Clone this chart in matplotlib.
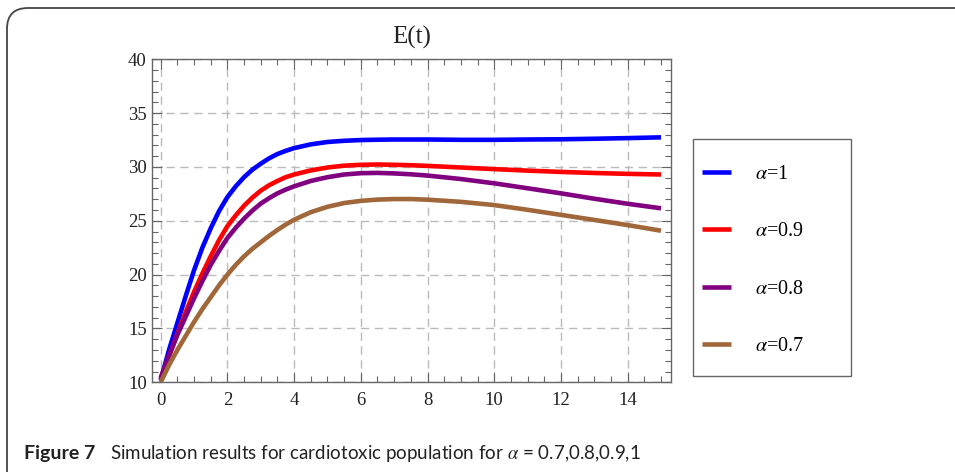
import matplotlib
matplotlib.use("Agg")
from matplotlib import pyplot as plt
from matplotlib import font_manager
from matplotlib.patches import FancyBboxPatch, Rectangle
from matplotlib.ticker import MultipleLocator

# values
t = [0, 0.25, 0.5, 0.75, 1.0, 1.25, 1.5, 1.75, 2.0, 2.25, 2.5, 2.75, 3.0, 3.25, 3.5, 3.75,
     4.0, 4.5, 5.0, 5.5, 6.0, 6.5, 7.0, 7.5, 8, 9, 10, 11, 12, 13, 14, 15]

e_a10 = [10.2, 13.0, 15.5, 18.0, 20.4, 22.5, 24.3, 25.9, 27.2, 28.2, 29.05, 29.75, 30.3, 30.8, 31.2, 31.5,
         31.75, 32.1, 32.32, 32.43, 32.5, 32.53, 32.55, 32.55, 32.55, 32.52, 32.52, 32.55, 32.57, 32.62, 32.68, 32.75]
e_a09 = [10.3, 12.4, 14.5, 16.5, 18.4, 20.1, 21.7, 23.2, 24.5, 25.5, 26.4, 27.15, 27.8, 28.3, 28.7, 29.05,
         29.3, 29.68, 29.95, 30.12, 30.2, 30.23, 30.2, 30.16, 30.1, 29.95, 29.8, 29.66, 29.54, 29.44, 29.36, 29.3]
e_a08 = [10.4, 12.5, 14.4, 16.1, 17.8, 19.4, 20.9, 22.2, 23.4, 24.35, 25.2, 25.95, 26.6, 27.1, 27.55, 27.9,
         28.2, 28.7, 29.05, 29.3, 29.42, 29.45, 29.4, 29.32, 29.2, 28.88, 28.48, 28.02, 27.55, 27.05, 26.58, 26.16]
e_a07 = [10.0, 11.6, 13.0, 14.3, 15.6, 16.8, 17.9, 19.0, 20.0, 20.9, 21.7, 22.4, 23.0, 23.6, 24.15, 24.65,
         25.1, 25.8, 26.3, 26.65, 26.85, 26.97, 27.02, 27.02, 26.96, 26.76, 26.46, 26.02, 25.55, 25.08, 24.6, 24.08]

labels = [r"$\alpha$=1", r"$\alpha$=0.9", r"$\alpha$=0.8", r"$\alpha$=0.7"]
colors = ["#0000ff", "#ff0000", "#800080", "#a0673a"]

plt.rcParams["font.family"] = ["Liberation Serif", "DejaVu Serif"]
plt.rcParams["mathtext.fontset"] = "stix"

names = {f.name for f in font_manager.fontManager.ttflist}
cap_font = "Liberation Sans Narrow" if "Liberation Sans Narrow" in names else "Lato"

fig = plt.figure(figsize=(9.55, 4.72), dpi=100)
ax = fig.add_axes([0.1588, 0.19, 0.7023 - 0.1588, 0.8744 - 0.19])

for y, lab, c in zip([e_a10, e_a09, e_a08, e_a07], labels, colors):
    ax.plot(t, y, color=c, lw=3.3, label=lab, solid_capstyle="butt", solid_joinstyle="round")

ax.set_xlim(-0.27, 15.29)
ax.set_ylim(10, 40)
ax.xaxis.set_major_locator(MultipleLocator(2))
ax.xaxis.set_minor_locator(MultipleLocator(0.5))
ax.yaxis.set_major_locator(MultipleLocator(5))
ax.yaxis.set_minor_locator(MultipleLocator(1))
ax.tick_params(which="both", direction="in", top=True, right=True,
               colors="#666666", labelcolor="#222222", labelsize=13.5)
ax.tick_params(axis="x", which="major", pad=7)
ax.tick_params(which="major", length=7, width=0.8)
ax.tick_params(which="minor", length=4, width=0.8)
for s in ax.spines.values():
    s.set_color("#666666")
    s.set_linewidth(1.0)
ax.grid(True, which="major", color="#bbbbbb", ls=(0, (6, 4)), lw=1.0)
ax.set_axisbelow(True)
ax.set_title("E(t)", fontsize=18, color="#222222", pad=11)

# legend box
fig.patches.append(Rectangle((693 / 955, 1 - 376 / 472), (851 - 693) / 955, (376 - 139) / 472,
                             transform=fig.transFigure, fill=False, ec="#666666", lw=1.0))
h, l = ax.get_legend_handles_labels()
fig.legend(h, l, loc="upper left", bbox_to_anchor=(702 / 955, 1 - 165 / 472),
           frameon=False, fontsize=14.5, handlelength=1.44, handletextpad=1.2,
           labelspacing=1.9, borderpad=0, borderaxespad=0)

# outer rounded frame
fig.patches.append(FancyBboxPatch((7 / 955, -0.1), 1.1, 1 - 8 / 472 + 0.1,
                                  boxstyle="round,pad=0,rounding_size=0.022",
                                  transform=fig.transFigure, fill=False,
                                  ec="#444444", lw=1.3, mutation_aspect=2.0))

fig.text(24 / 955, 1 - 453 / 472, "Figure 7", family=cap_font, weight="bold",
         fontsize=14, va="center", color="#222222")
fig.text(110 / 955, 1 - 453 / 472,
         r"Simulation results for cardiotoxic population for $\alpha$ = 0.7,0.8,0.9,1",
         family=cap_font, fontsize=13.5, va="center", color="#222222")

fig.savefig("out.png", dpi=100)
